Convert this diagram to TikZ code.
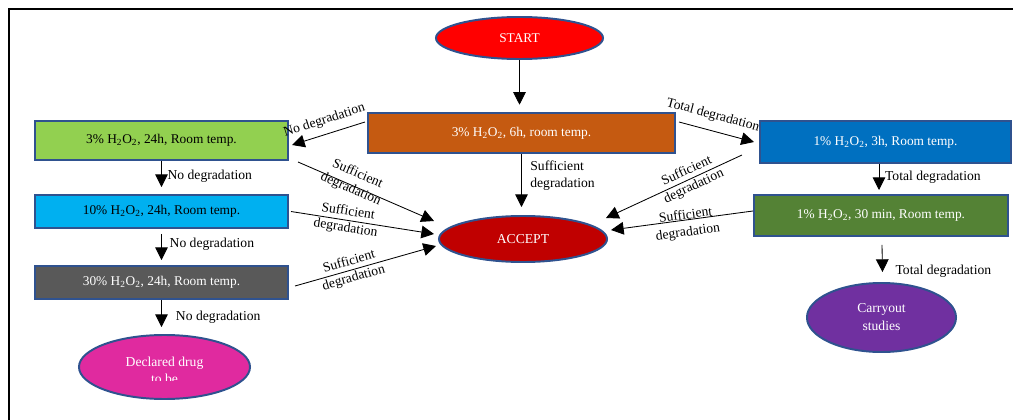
\documentclass[tikz,border=0pt]{standalone}
\usepackage{fontspec}
\setmainfont{Liberation Serif}
\usetikzlibrary{arrows.meta,calc,shapes.geometric}
\definecolor{bordc}{HTML}{2F528F}
\definecolor{orangec}{HTML}{C55A11}
\definecolor{greenc}{HTML}{92D050}
\definecolor{cyanc}{HTML}{00B0F0}
\definecolor{grayc}{HTML}{595959}
\definecolor{bluec}{HTML}{0070C0}
\definecolor{dgreenc}{HTML}{548235}
\definecolor{startred}{HTML}{FF0000}
\definecolor{acceptred}{HTML}{C00000}
\definecolor{magc}{HTML}{E02A9F}
\definecolor{purplec}{HTML}{7030A0}
\newcommand\bxfont{\fontsize{9.5}{11}\selectfont}
\newcommand\lbfont{\fontsize{9.7}{12}\selectfont}
\newcommand\stfont{\fontsize{9.5}{11}\selectfont}
\newcommand\hto{H\textsubscript{2}O\textsubscript{2}}
\begin{document}
\begin{tikzpicture}[x=0.025cm,y=-0.025cm,
  box/.style={draw=bordc,line width=1.4pt,minimum width=6.325cm,inner sep=0pt,font=\bxfont},
  oval/.style={ellipse,draw=bordc,line width=1.4pt,inner sep=0pt,text=white},
  arr/.style={-{Triangle[length=9pt,width=9pt]},line width=0.6pt},
  arrl/.style={{Triangle[length=9pt,width=9pt]}-,line width=0.6pt},
  lbl/.style={font=\lbfont,align=center,inner sep=1pt}
]
\useasboundingbox (0,0) rectangle (1013,420);
\draw[line width=1.1pt] (9,420) -- (9,9) -- (1013,9);

\node[oval,fill=startred,minimum width=4.175cm,minimum height=1.05cm,font=\stfont] (start) at (519.5,38) {START};
\node[box,fill=orangec,minimum width=7.675cm,minimum height=1.0125cm,text=white] (orange) at (521.5,133) {3\% \hto, 6h, room temp.};
\node[box,fill=greenc,minimum height=0.975cm] (g1) at (161.5,140.5) {3\% \hto, 24h, Room temp.};
\node[box,fill=cyanc,minimum height=0.825cm] (g2) at (161.5,211.5) {10\% \hto, 24h, Room temp.};
\node[box,fill=grayc,minimum height=0.825cm,text=white] (g3) at (161.5,282.5) {30\% \hto, 24h, Room temp.};
\node[box,fill=bluec,minimum width=6.275cm,minimum height=1.05cm,text=white] (b1) at (885.5,142) {1\% \hto, 3h, Room temp.};
\node[box,fill=dgreenc,minimum width=6.35cm,minimum height=1.025cm,text=white] (b2) at (881,215.5) {1\% \hto, 30 min, Room temp.};
\node[oval,fill=acceptred,minimum width=4.2cm,minimum height=1.15cm,font=\lbfont] (accept) at (523,239) {ACCEPT};
\node[oval,fill=magc,minimum width=4.275cm,minimum height=1.6cm] (decl) at (164.5,367) {};
\begin{scope}
\clip (80,340) rectangle (250,380.5);
\node[lbl,text=white] (decltext) at (164.5,370) {Declared drug\\to be};
\end{scope}
\node[oval,fill=purplec,minimum width=3.725cm,minimum height=1.725cm,font=\fontsize{9.7}{12.8}\selectfont,align=center] (carry) at (881.5,317.5) {Carryout\\studies};

% arrows
\draw[arr,shorten >=5pt] (start.south) -- (start.south |- orange.north);
\draw[arrl] ($(g1.east)+(3,4.5)$) -- node[lbl,sloped,above=4pt,midway] {No degradation} ($(orange.west)+(-2,-11)$);
\draw[arr] (g1.south) -- node[lbl,right=3pt,pos=0.6] {No degradation} ($(g2.north)+(0,-7)$);
\draw[arr] ($(g2.south)+(0,5)$) -- node[lbl,right=4.5pt,pos=0.4] {No degradation} ($(g3.north)+(0,-5)$);
\draw[arr] (g3.south) -- node[lbl,right=9pt,pos=0.64] {No degradation} ($(g3.south |- decl.north)+(0,-7)$);

\draw[arr] (orange.south) -- node[lbl,right=5pt,pos=0.4,align=left] {Sufficient\\degradation} ($(orange.south |- accept.north)+(0,-8)$);
\draw[arr] ($(g1.east)+(9,21.5)$) -- node[lbl,sloped,pos=0.4,yshift=3pt] {Sufficient\\degradation} ($(accept.west)+(-4,-18)$);
\draw[arr] ($(g2.east)+(2,0)$) -- node[lbl,sloped,pos=0.39] {Sufficient\\degradation} ($(accept.west)+(-4,-5)$);
\draw[arr] ($(g3.east)+(6,3.5)$) -- node[lbl,sloped,pos=0.4] {Sufficient\\degradation} ($(accept.west)+(-2,7)$);

\draw[arr] ($(orange.east)+(3,-11)$) -- node[lbl,sloped,above=5pt,pos=0.4] {Total degradation} ($(b1.west)+(-5,0)$);
\draw[arrl] ($(accept.east)+(-2,-21)$) -- node[lbl,sloped,pos=0.62] {Sufficient\\degradation} ($(b1.west)+(-17,13)$);
\draw[arrl] ($(accept.east)+(3,-9)$) -- node[lbl,sloped,pos=0.53,yshift=-3pt] {Sufficient\\degradation} ($(b2.west)+(0,-4.5)$);
\draw[arr] ($(b2.north |- b1.south)+(-2,0)$) -- node[lbl,right=3pt,midway] {Total degradation} ($(b2.north)+(-2,-4)$);
\draw[arr] ($(b2.south)+(1,8)$) -- node[lbl,right=8pt,pos=0.97] {Total degradation} ($(carry.north)+(1,-10)$);
\end{tikzpicture}
\end{document}
